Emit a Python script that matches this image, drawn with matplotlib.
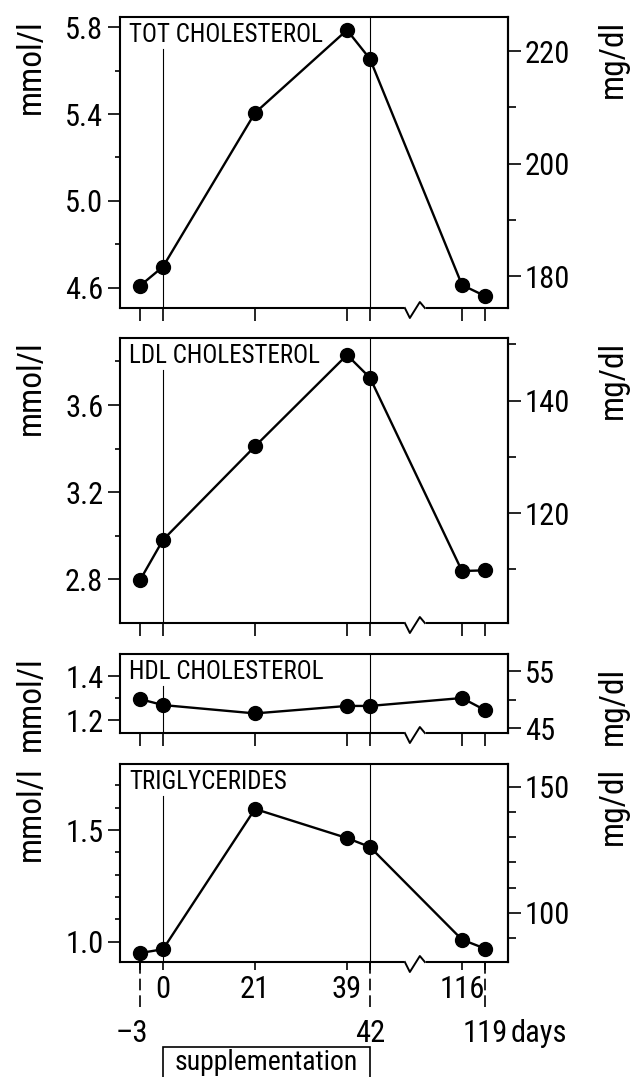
import matplotlib
matplotlib.use("Agg")
import matplotlib.pyplot as plt
from matplotlib import transforms
from matplotlib.patches import Rectangle
from matplotlib.ticker import FixedLocator, FormatStrFormatter

# days of sampling and the four lipid series (mmol/l)
DAYS = [-3, 0, 21, 39, 42, 116, 119]
TOT_CHOL = [4.61, 4.698, 5.405, 5.786, 5.653, 4.614, 4.563]
LDL_CHOL = [2.795, 2.98, 3.41, 3.83, 3.725, 2.837, 2.84]
HDL_CHOL = [1.295, 1.268, 1.23, 1.264, 1.264, 1.30, 1.245]
TRIGLYC = [0.95, 0.967, 1.594, 1.464, 1.424, 1.01, 0.97]

PANEL_NAMES = ["TOT CHOLESTEROL", "LDL CHOLESTEROL", "HDL CHOLESTEROL", "TRIGLYCERIDES"]
MG_PER_MMOL = [38.67, 38.67, 38.67, 88.57]

LEFT_MAJOR = [[4.6, 5.0, 5.4, 5.8], [2.8, 3.2, 3.6], [1.2, 1.4], [1.0, 1.5]]
LEFT_MINOR = [[4.8, 5.2, 5.6], [3.0, 3.4, 3.8], [1.3], [1.1, 1.2, 1.3, 1.4, 1.6, 1.7]]
RIGHT_MAJOR = [[180, 200, 220], [100, 120, 140], [45, 55], [100, 150]]
RIGHT_MINOR = [[190, 210], [110, 130, 150], [50], [90, 110, 120, 130, 140]]
YLIMS = [(4.508, 5.846), (2.598, 3.908), (1.141, 1.50), (0.91, 1.795)]

X_TICK_LABELS = ["\u20133", "0", "21", "39", "42", "116", "119"]

# layout: the day axis is broken, so days sit on slots
X_SLOTS = [0, 1, 5, 9, 10, 14, 15]
LOWER_ROW = [True, False, False, False, True, False, True]
XLIM = (-0.87, 16.0)
BREAK_SLOT = 11.95

W, H = 633, 1077
LEFT_PX, RIGHT_PX = 120, 508
PANEL_PX = [(17, 308), (338, 623), (654, 733), (764, 962)]
RIGHT_LABEL_DROP = [3, 3, 13, 3]

plt.rcParams['font.family'] = ['Roboto Condensed', 'DejaVu Sans']
plt.rcParams['font.stretch'] = 'condensed'
TICK_FS = 22
NAME_FS = 18
AXLABEL_FS = 24


def draw_break(ax):
    ppu = ax.bbox.width / (XLIM[1] - XLIM[0])
    hpx = ax.bbox.height
    tr = transforms.blended_transform_factory(ax.transData, ax.transAxes)
    ax.plot([BREAK_SLOT - 11 / ppu, BREAK_SLOT + 11 / ppu], [0, 0], color='white',
            lw=3, transform=tr, clip_on=False, zorder=5, solid_capstyle='butt')
    zx = [-10, -5, 5, 10]
    zy = [0, -10, 6, 0]
    ax.plot([BREAK_SLOT + dx / ppu for dx in zx], [dy / hpx for dy in zy], color='k',
            lw=1.4, transform=tr, clip_on=False, zorder=6)


series = [TOT_CHOL, LDL_CHOL, HDL_CHOL, TRIGLYC]

fig = plt.figure(figsize=(W / 100, H / 100), dpi=100)

for i, values in enumerate(series):
    top, bot = PANEL_PX[i]
    ax = fig.add_axes([LEFT_PX / W, 1 - bot / H, (RIGHT_PX - LEFT_PX) / W, (bot - top) / H])
    hpx = bot - top

    ax.plot(X_SLOTS, values, '-o', color='k', lw=1.7, ms=10, zorder=3, clip_on=False)
    ax.set_xlim(XLIM)
    ax.set_ylim(YLIMS[i])

    # supplementation start / end
    ax.axvline(X_SLOTS[1], ymin=0, ymax=1 - 32 / hpx, color='k', lw=0.8, zorder=2)
    ax.axvline(X_SLOTS[4], color='k', lw=0.8, zorder=2)

    for s in ax.spines.values():
        s.set_linewidth(1.5)

    ax.yaxis.set_major_locator(FixedLocator(LEFT_MAJOR[i]))
    ax.yaxis.set_minor_locator(FixedLocator(LEFT_MINOR[i]))
    ax.yaxis.set_major_formatter(FormatStrFormatter('%.1f'))
    ax.tick_params(axis='y', which='major', direction='out', length=9, width=1.2,
                   pad=3, labelsize=TICK_FS)
    ax.tick_params(axis='y', which='minor', direction='out', length=3.5, width=1.2)

    ax.set_xticks(X_SLOTS)
    ax.set_xticklabels([])
    if i < 3:
        ax.tick_params(axis='x', direction='out', length=9, width=1.2)
    else:
        ax.tick_params(axis='x', direction='out', length=6, width=1.2)

    twin = ax.twinx()
    twin.set_ylim(YLIMS[i][0] * MG_PER_MMOL[i], YLIMS[i][1] * MG_PER_MMOL[i])
    for side in ['left', 'top', 'bottom']:
        twin.spines[side].set_visible(False)
    twin.spines['right'].set_linewidth(1.5)
    twin.yaxis.set_major_locator(FixedLocator(RIGHT_MAJOR[i]))
    twin.yaxis.set_minor_locator(FixedLocator(RIGHT_MINOR[i]))
    twin.yaxis.set_major_formatter(FormatStrFormatter('%d'))
    twin.tick_params(axis='y', which='major', direction='out', length=9, width=1.2,
                     pad=3, labelsize=TICK_FS)
    twin.tick_params(axis='y', which='minor', direction='out', length=5.5, width=1.2)

    ax.annotate(PANEL_NAMES[i], xy=(0, 1), xycoords='axes fraction', xytext=(9, -6),
                textcoords='offset pixels', ha='left', va='top', fontsize=NAME_FS)

    fig.text(31 / W, 1 - (top + 2) / H, 'mmol/l', rotation=90, ha='center', va='top',
             fontsize=AXLABEL_FS)
    fig.text(613 / W, 1 - (top + RIGHT_LABEL_DROP[i]) / H, 'mg/dl', rotation=90,
             ha='center', va='top', fontsize=AXLABEL_FS)

    draw_break(ax)

# day labels under the last panel
tr = transforms.blended_transform_factory(ax.transData, ax.transAxes)
for slot, lab, low in zip(X_SLOTS, X_TICK_LABELS, LOWER_ROW):
    if low:
        ax.plot([slot, slot], [0, -48 / hpx], color='k', lw=1.2, dashes=(7, 3),
                transform=tr, clip_on=False)
        dx = 8 if lab.startswith('\u2013') else 0
        ha = 'right' if dx else 'center'
        ax.annotate(lab, xy=(slot, 0), xycoords=tr, xytext=(dx, -71),
                    textcoords='offset pixels', ha=ha, va='center', fontsize=TICK_FS)
    else:
        ax.annotate(lab, xy=(slot, 0), xycoords=tr, xytext=(0, -28),
                    textcoords='offset pixels', ha='center', va='center', fontsize=TICK_FS)
ax.annotate('days', xy=(X_SLOTS[-1], 0), xycoords=tr, xytext=(26, -71),
            textcoords='offset pixels', ha='left', va='center', fontsize=TICK_FS)

# supplementation box
box_tr = transforms.blended_transform_factory(ax.transData, fig.transFigure)
box = Rectangle((X_SLOTS[1], 1 - 1095 / H), X_SLOTS[4] - X_SLOTS[1], (1095 - 1047) / H,
                transform=box_tr, fill=False, ec='k', lw=1.2, clip_on=False)
fig.add_artist(box)
fig.text((X_SLOTS[1] + X_SLOTS[4]) / 2, 1 - 1062 / H, 'supplementation', transform=box_tr,
         ha='center', va='center', fontsize=20)

fig.savefig('out.png', dpi=100)
